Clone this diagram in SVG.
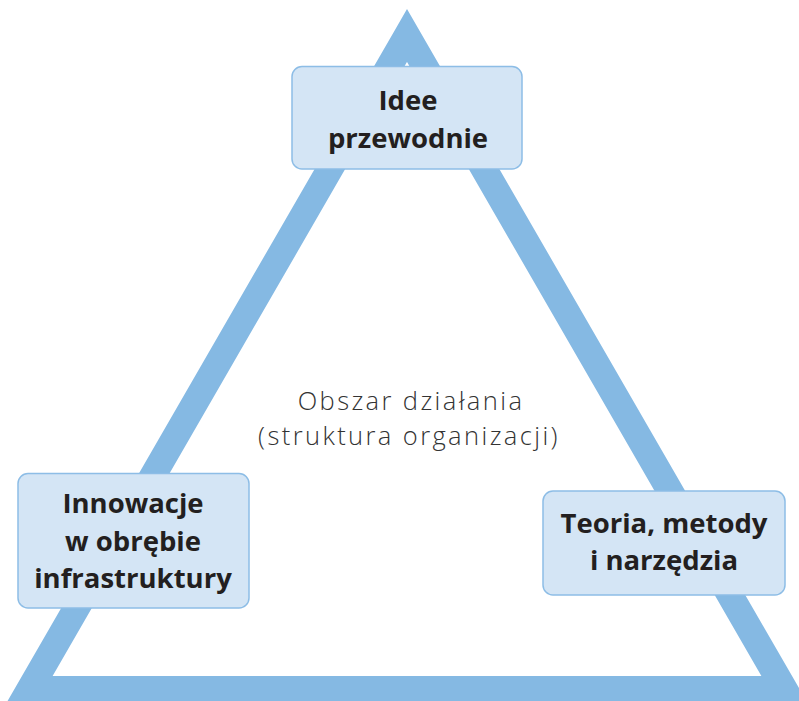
<svg xmlns="http://www.w3.org/2000/svg" width="799" height="701" viewBox="0 0 799 701">
<style>
.box rect{fill:#d4e5f5;stroke:#8dbde6;stroke-width:1.5}
.lbl{font-family:"Open Sans","Liberation Sans",sans-serif;font-weight:700;font-size:27.5px;fill:#231f20;text-anchor:middle}
.mid{font-family:"Open Sans","Liberation Sans",sans-serif;font-weight:300;font-size:25.5px;letter-spacing:2.4px;fill:#333;text-anchor:middle}
</style>
<rect width="799" height="701" fill="#fff"/>
<g id="connectors">
<polygon points="407,35.5 29.6,689.3 784.4,689.3" fill="none" stroke="#85b9e3" stroke-width="26.5" stroke-linejoin="miter" stroke-miterlimit="4"/>
</g>
<g id="center-label">
<text class="mid" x="411" y="410">Obszar działania</text>
<text class="mid" x="409" y="445">(struktura organizacji)</text>
</g>
<g id="node-top" class="box">
<rect x="292" y="66.5" width="230" height="102.5" rx="10"/>
<text class="lbl" x="408" y="110">Idee</text>
<text class="lbl" x="408" y="148">przewodnie</text>
</g>
<g id="node-left" class="box">
<rect x="18" y="473.5" width="231" height="134.5" rx="10"/>
<text class="lbl" x="133" y="513">Innowacje</text>
<text class="lbl" x="133" y="551">w obrębie</text>
<text class="lbl" x="133" y="588">infrastruktury</text>
</g>
<g id="node-right" class="box">
<rect x="543" y="491" width="242" height="104" rx="10"/>
<text class="lbl" x="664" y="533">Teoria, metody</text>
<text class="lbl" x="664" y="570">i narzędzia</text>
</g>
</svg>
